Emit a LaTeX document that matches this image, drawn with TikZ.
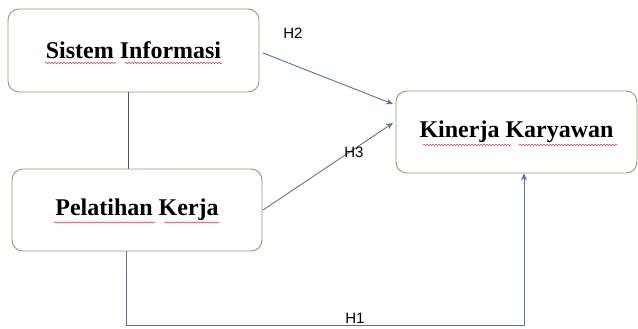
\documentclass[tikz,border=0pt]{standalone}
\usepackage{fontspec}
\setmainfont{Liberation Serif}
\newfontfamily\lblfont{Liberation Sans}
\usetikzlibrary{arrows.meta,decorations.pathmorphing}
\definecolor{boxline}{HTML}{8E9C72}
\definecolor{conn}{HTML}{5D7299}
\definecolor{plainline}{HTML}{4F5460}
\definecolor{spell}{HTML}{D04040}
\tikzset{
  varbox/.style={draw=boxline, line width=0.9pt, rounded corners=11pt, fill=white,
    font=\fontsize{24}{28}\selectfont\bfseries, inner sep=0pt},
  conline/.style={draw=conn, line width=0.9pt},
  conarrow/.style={conline, -{Stealth[length=7pt,width=6pt]}},
  hlabel/.style={font=\lblfont\fontsize{15}{17}\selectfont, inner sep=1pt},
  squiggle/.style={draw=spell, line width=0.5pt, decorate,
    decoration={snake, amplitude=0.7pt, segment length=3pt}}
}
\begin{document}
\begin{tikzpicture}[x=1pt,y=1pt]
\useasboundingbox (0,0) rectangle (638,329);
% boxes (centres in pixel coords, y flipped)
\node[varbox, minimum width=251pt, minimum height=83pt] (SI) at (133.5,278.5) {Sistem Informasi};
\node[varbox, minimum width=250pt, minimum height=82pt] (PK) at (137,119) {Pelatihan Kerja};
\node[varbox, minimum width=241pt, minimum height=82pt] (KK) at (516.5,197) {Kinerja Karyawan};
% spell-check underlines
\draw[squiggle] (45,266) -- (116,266);
\draw[squiggle] (125,266) -- (222,266);
\draw[squiggle] (54,106.5) -- (155,106.5);
\draw[squiggle] (164,106.5) -- (219,106.5);
\draw[squiggle] (423,184) -- (511,184);
\draw[squiggle] (519,184) -- (617,184);
% coordinates
\coordinate (h2s) at (263,276);
\coordinate (h2e) at (393,225);
\coordinate (h3s) at (263,119);
\coordinate (h3e) at (393,206);
\coordinate (c1) at (126,4);
\coordinate (c2) at (524,4);
% connectors
\draw[draw=plainline, line width=0.9pt] (SI.south -| 128,0) -- (PK.north -| 128,0);
\draw[conarrow] (h2s) -- (h2e);
\draw[conarrow] (h3s) -- (h3e);
\draw[conarrow] (PK.south -| c1) -- (c1) -- (c2) -- (KK.south -| c2);
% labels
\node[hlabel] (L2) at (293,296) {H2};
\node[hlabel] (L3) at (354,177) {H3};
\node[hlabel, fill=white, anchor=south] (L1) at (355,4.6) {H1};
\end{tikzpicture}
\end{document}
